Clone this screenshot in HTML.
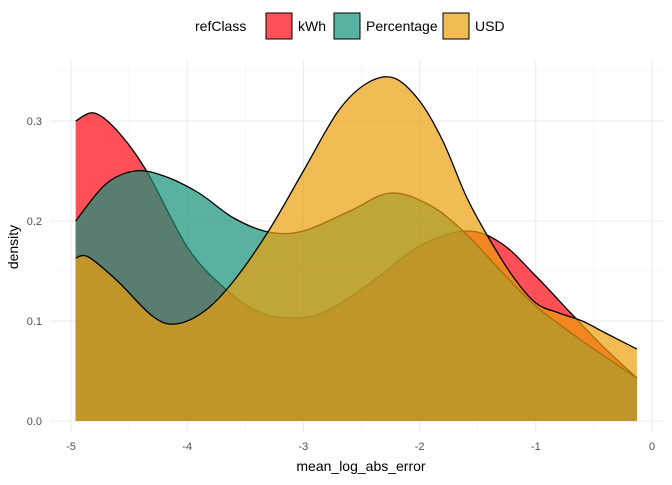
<!DOCTYPE html>
<html><head><meta charset="utf-8"><style>
body{margin:0;background:#fff;font-family:"Liberation Sans",sans-serif}
</style></head><body>
<svg id="chart" width="672" height="480" xmlns="http://www.w3.org/2000/svg" font-family="Liberation Sans, sans-serif">
<g id="grid"></g>
<g id="marks"></g>
<g id="axes"></g>
<text x="361" y="471" text-anchor="middle" font-size="14" fill="#000">mean_log_abs_error</text>
<text transform="translate(18,247) rotate(-90)" text-anchor="middle" font-size="14" fill="#000">density</text>
<g>
<text x="195" y="31" font-size="14">refClass</text>
<g><rect x="266" y="13" width="26" height="26" fill="#FF040F" fill-opacity="0.7" stroke="#000" stroke-width="1"/><text x="298" y="31" font-size="14">kWh</text></g>
<g><rect x="334" y="13" width="26" height="26" fill="#139277" fill-opacity="0.7" stroke="#000" stroke-width="1"/><text x="366" y="31" font-size="14">Percentage</text></g>
<g><rect x="443" y="13" width="26" height="26" fill="#EC9F0C" fill-opacity="0.7" stroke="#000" stroke-width="1"/><text x="475" y="31" font-size="14">USD</text></g>
</g>
</svg>
<script>
const xTicks=[-5,-4,-3,-2,-1,0];
const yTicks=[0,0.1,0.2,0.3];
const kwhX=[-4.96,-4.8,-4.6,-4.35,-4.0,-3.7,-3.4,-3.1,-2.8,-2.4,-2.0,-1.6,-1.3,-1.0,-0.7,-0.4,-0.13];
const kwhY=[0.300,0.308,0.29,0.25,0.174,0.135,0.11,0.103,0.11,0.14,0.175,0.19,0.178,0.145,0.108,0.072,0.043];
const pctX=[-4.96,-4.7,-4.45,-4.2,-3.9,-3.6,-3.3,-3.0,-2.6,-2.25,-1.9,-1.6,-1.3,-1.0,-0.6,-0.13];
const pctY=[0.2,0.237,0.25,0.245,0.228,0.203,0.189,0.19,0.21,0.228,0.215,0.187,0.15,0.115,0.08,0.043];
const usdX=[-4.96,-4.85,-4.6,-4.3,-4.1,-3.85,-3.6,-3.3,-3.0,-2.7,-2.45,-2.22,-2.0,-1.8,-1.6,-1.42,-1.2,-1.0,-0.8,-0.6,-0.4,-0.13];
const usdY=[0.163,0.164,0.14,0.105,0.097,0.11,0.14,0.19,0.25,0.31,0.338,0.343,0.32,0.28,0.225,0.186,0.145,0.118,0.108,0.1,0.088,0.072];
const NS="http://www.w3.org/2000/svg";
const X0=50,X1=665,Y0=60,Y1=432;
const sx=v=>652+v*116.2;
const sy=v=>421-v*1000;
function mk(t,a,p){const e=document.createElementNS(NS,t);for(const k in a)e.setAttribute(k,a[k]);p.appendChild(e);return e;}
const grid=document.getElementById('grid'),axes=document.getElementById('axes'),marks=document.getElementById('marks');
for(let i=0;i<xTicks.length-1;i++){const m=(xTicks[i]+xTicks[i+1])/2;
 const l=mk('line',{x1:sx(m),x2:sx(m),y1:Y0,y2:Y1,stroke:'#f3f3f3','stroke-width':0.6},grid);
 }
for(let i=0;i<yTicks.length;i++){const m=yTicks[i]+0.05;
 const l=mk('line',{x1:X0,x2:X1,y1:sy(m),y2:sy(m),stroke:'#f3f3f3','stroke-width':0.6},grid);
 }
xTicks.forEach(v=>{const l=mk('line',{x1:sx(v),x2:sx(v),y1:Y0,y2:Y1,stroke:'#ebebeb','stroke-width':1.1},grid);
 
 const t=mk('text',{x:sx(v),y:450,'text-anchor':'middle','font-size':11,fill:'#4d4d4d'},axes);t.textContent=v;
 });
yTicks.forEach(v=>{const l=mk('line',{x1:X0,x2:X1,y1:sy(v),y2:sy(v),stroke:'#ebebeb','stroke-width':1.1},grid);
 
 const t=mk('text',{x:42,y:sy(v)+4,'text-anchor':'end','font-size':11,fill:'#4d4d4d'},axes);t.textContent=v.toFixed(1);
 });
function smooth(xs,ys){const p=xs.map((x,i)=>[sx(x),sy(ys[i])]);let d='M'+p[0][0]+','+p[0][1];
 for(let i=0;i<p.length-1;i++){const a=p[i-1]||p[i],b=p[i],c=p[i+1],e=p[i+2]||c;
 d+=' C'+(b[0]+(c[0]-a[0])/6)+','+(b[1]+(c[1]-a[1])/6)+' '+(c[0]-(e[0]-b[0])/6)+','+(c[1]-(e[1]-b[1])/6)+' '+c[0]+','+c[1];}
 return d;}
function area(xs,ys,col,name){const top=smooth(xs,ys);
 const d=top+' L'+sx(xs[xs.length-1])+','+sy(0)+' L'+sx(xs[0])+','+sy(0)+' Z';
 const a=mk('path',{d:d,fill:col,'fill-opacity':0.7,stroke:'none'},marks);
 
 const l=mk('path',{d:top,fill:'none',stroke:'#000','stroke-width':1.3},marks);
 }
area(kwhX,kwhY,'#FF040F','kwh');
area(pctX,pctY,'#139277','percentage');
area(usdX,usdY,'#EC9F0C','usd');
</script>
</body></html>
